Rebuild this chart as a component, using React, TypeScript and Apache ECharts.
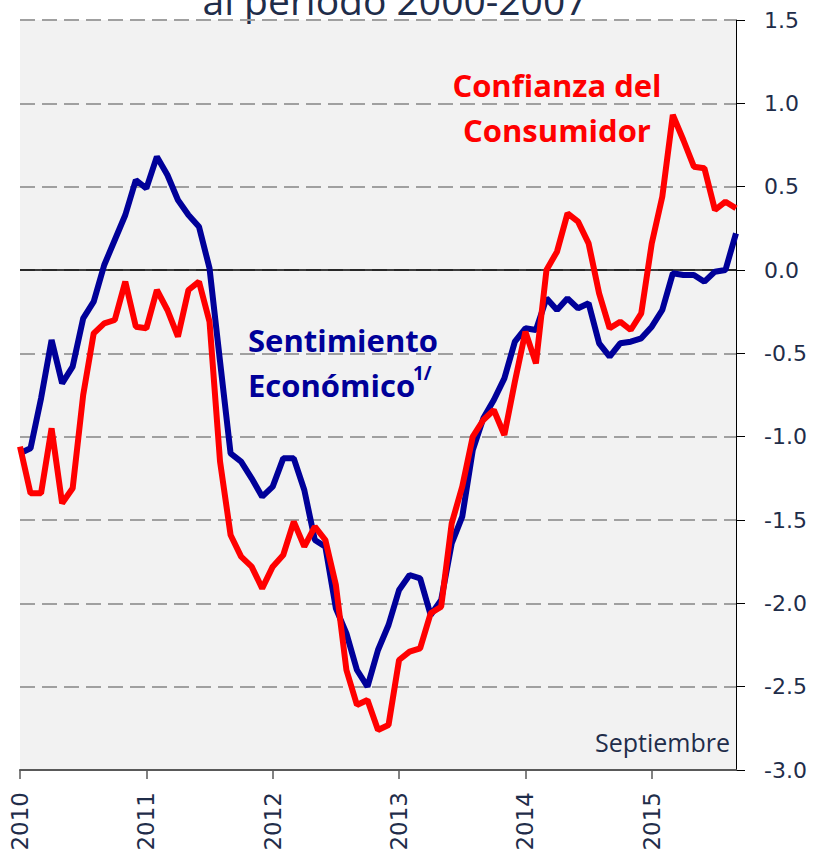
import React, { useEffect, useRef } from "react";
import * as echarts from "echarts";

const years = [2010, 2011, 2012, 2013, 2014, 2015];
const lastMonth = 9; // September 2015
const months: string[] = [];
years.forEach((y) => {
  const n = y === 2015 ? lastMonth : 12;
  for (let m = 1; m <= n; m++) months.push(`${y}-${String(m).padStart(2, "0")}`);
});

const sentimientoEconomico = [
  -1.10, -1.07, -0.77, -0.42, -0.68, -0.58, -0.29, -0.19, 0.03, 0.18, 0.33, 0.54,
  0.49, 0.68, 0.57, 0.42, 0.33, 0.26, 0.01, -0.55, -1.10, -1.15, -1.25, -1.36,
  -1.30, -1.13, -1.13, -1.32, -1.62, -1.66, -2.03, -2.18, -2.40, -2.50, -2.28, -2.13,
  -1.92, -1.83, -1.85, -2.07, -1.98, -1.64, -1.48, -1.08, -0.89, -0.78, -0.65, -0.43,
  -0.35, -0.36, -0.17, -0.24, -0.17, -0.23, -0.20, -0.44, -0.52, -0.44, -0.43, -0.41,
  -0.34, -0.24, -0.02, -0.03, -0.03, -0.07, -0.01, 0.00, 0.22,
];

const confianzaConsumidor = [
  -1.06, -1.34, -1.34, -0.95, -1.40, -1.31, -0.75, -0.38, -0.32, -0.30, -0.07, -0.34,
  -0.35, -0.12, -0.24, -0.40, -0.12, -0.07, -0.31, -1.15, -1.59, -1.72, -1.78, -1.91,
  -1.78, -1.71, -1.51, -1.66, -1.54, -1.62, -1.89, -2.40, -2.61, -2.58, -2.76, -2.73,
  -2.34, -2.29, -2.27, -2.06, -2.02, -1.52, -1.30, -1.00, -0.90, -0.84, -0.99, -0.67,
  -0.37, -0.56, 0.00, 0.11, 0.34, 0.29, 0.16, -0.14, -0.35, -0.31, -0.36, -0.26,
  0.16, 0.44, 0.93, 0.78, 0.62, 0.61, 0.36, 0.41, 0.37,
];

const yMin = -3.0;
const yMax = 1.5;
const yStep = 0.5;

const NAVY = "#1F2D4A";
const BLUE = "#000099";
const RED = "#FF0000";
const GRID_GRAY = "#A0A0A0";

export default function App() {
  const ref = useRef<HTMLDivElement>(null);
  useEffect(() => {
    if (!ref.current) return;
    const chart = echarts.init(ref.current, undefined, { renderer: "svg" });
    const splitColors = [
      "rgba(0,0,0,0)",
      GRID_GRAY, GRID_GRAY, GRID_GRAY, GRID_GRAY, GRID_GRAY,
      GRID_GRAY, GRID_GRAY, GRID_GRAY, GRID_GRAY,
    ];
    chart.setOption({
      animation: false,
      backgroundColor: "#FFFFFF",
      grid: {
        left: 20,
        right: 81,
        top: 20,
        bottom: 88,
        show: true,
        backgroundColor: "#F2F2F2",
        borderWidth: 0,
      },
      xAxis: {
        type: "category",
        data: months,
        boundaryGap: false,
        z: 5,
        axisLine: { show: true, onZero: false, lineStyle: { color: "#595959", width: 2 } },
        axisTick: {
          show: true,
          interval: (i: number) => i % 12 === 0,
          length: 9,
          lineStyle: { color: "#595959", width: 1.5 },
        },
        axisLabel: {
          interval: (i: number) => i % 12 === 0,
          formatter: (v: string) => v.slice(0, 4),
          rotate: 90,
          fontSize: 23,
          fontFamily: "DejaVu Sans",
          color: NAVY,
          margin: 22,
        },
        splitLine: { show: false },
      },
      yAxis: {
        type: "value",
        position: "right",
        min: yMin,
        max: yMax,
        interval: yStep,
        axisLine: { show: true, lineStyle: { color: "#000000", width: 1 } },
        axisTick: { show: true, length: 9, lineStyle: { color: "#000000", width: 1 } },
        axisLabel: {
          formatter: (v: number) => v.toFixed(1),
          fontSize: 22,
          fontFamily: "DejaVu Sans",
          color: NAVY,
          margin: 28,
        },
        splitLine: {
          show: true,
          lineStyle: { color: splitColors, width: 2, type: [15, 7] },
        },
      },
      series: [
        {
          name: "Sentimiento Económico",
          type: "line",
          data: sentimientoEconomico,
          showSymbol: false,
          symbol: "none",
          lineStyle: { color: BLUE, width: 6 },
          z: 3,
          markLine: {
            silent: true,
            symbol: "none",
            label: { show: false },
            lineStyle: { color: "#000000", width: 1.5, type: "solid" },
            data: [{ yAxis: 0 }],
            z: 2,
          },
        },
        {
          name: "Confianza del Consumidor",
          type: "line",
          data: confianzaConsumidor,
          showSymbol: false,
          symbol: "none",
          lineStyle: { color: RED, width: 6 },
          z: 4,
        },
      ],
      graphic: [
        {
          type: "text",
          x: 395,
          y: -1,
          style: {
            text: "al periodo 2000-2007",
            fontSize: 39,
            fontFamily: "Open Sans",
            fill: NAVY,
            align: "center",
            verticalAlign: "middle",
          },
        },
        {
          type: "text",
          x: 557,
          y: 107,
          style: {
            text: "Confianza del\nConsumidor",
            fontSize: 31,
            fontWeight: "bold",
            fontFamily: "Open Sans",
            lineHeight: 45,
            fill: RED,
            align: "center",
            verticalAlign: "middle",
          },
        },
        {
          type: "text",
          x: 248,
          y: 362,
          style: {
            text: "Sentimiento\nEconómico",
            fontSize: 31,
            fontWeight: "bold",
            fontFamily: "Open Sans",
            lineHeight: 45,
            fill: BLUE,
            align: "left",
            verticalAlign: "middle",
          },
        },
        {
          type: "text",
          x: 413,
          y: 373,
          style: {
            text: "1/",
            fontSize: 19,
            fontWeight: "bold",
            fontFamily: "Open Sans",
            fill: BLUE,
            align: "left",
            verticalAlign: "middle",
          },
        },
        {
          type: "text",
          x: 730,
          y: 742,
          style: {
            text: "Septiembre",
            fontSize: 25,
            fontFamily: "Open Sans",
            fill: NAVY,
            align: "right",
            verticalAlign: "middle",
          },
        },
      ],
    });
    return () => chart.dispose();
  }, []);
  return (
    <div
      ref={ref}
      style={{ position: "fixed", left: 0, top: 0, width: 817, height: 858 }}
    />
  );
}
